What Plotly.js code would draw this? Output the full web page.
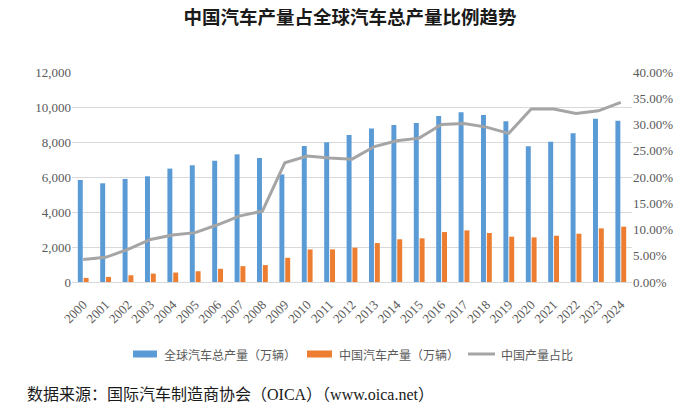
<!DOCTYPE html>
<html>
<head>
<meta charset="utf-8">
<script src="https://cdn.plot.ly/plotly-3.0.1.min.js"></script>
<style>html,body{margin:0;padding:0;background:#fff;}#chart{width:700px;height:407px;}</style>
</head>
<body>
<div id="chart"></div>
<script>
var years = ['2000','2001','2002','2003','2004','2005','2006','2007','2008','2009','2010','2011','2012','2013','2014','2015','2016','2017','2018','2019','2020','2021','2022','2023','2024'];
var globalProd = [5830,5640,5890,6040,6480,6670,6930,7295,7085,6150,7770,7985,8400,8765,8970,9085,9490,9700,9545,9180,7755,8020,8495,9335,9220];
var chinaProd = [235,290,385,480,540,615,755,905,965,1385,1860,1865,1960,2225,2440,2495,2855,2950,2800,2590,2550,2645,2760,3065,3160];
var chinaShare = [0.043,0.047,0.062,0.081,0.0895,0.094,0.109,0.126,0.135,0.227,0.240,0.236,0.234,0.258,0.269,0.274,0.300,0.302,0.295,0.283,0.3295,0.3295,0.321,0.326,0.342];

var seriesNames = ['全球汽车总产量（万辆）','中国汽车产量（万辆）','中国产量占比'];
var seriesColors = ['#5B9BD5','#ED7D31','#A5A5A5'];
var titleText = '中国汽车产量占全球汽车总产量比例趋势';
var sourceText = '数据来源：国际汽车制造商协会（OICA）（www.oica.net）';

var tickFont = {family:'"Liberation Serif", "Times New Roman", serif', size:13, color:'#595959'};

var data = [
  {type:'bar', name:seriesNames[0], x:years, y:globalProd, marker:{color:seriesColors[0]}, yaxis:'y'},
  {type:'bar', name:seriesNames[1], x:years, y:chinaProd, marker:{color:seriesColors[1]}, yaxis:'y'},
  {type:'scatter', mode:'lines', name:seriesNames[2], x:years, y:chinaShare, line:{color:seriesColors[2], width:3}, yaxis:'y2'}
];

// custom legend (paper coords; plot area is 72..632 x, 72..282 y)
var PX = function(px){ return (px-72)/560; };
var PY = function(py){ return (282-py)/210; };
var legFont = {family:'"Noto Sans CJK SC", sans-serif', size:12, color:'#595959'};
var shapes = [
  {type:'rect', xref:'paper', yref:'paper', x0:PX(133), x1:PX(157), y0:PY(357.5), y1:PY(350.5), fillcolor:seriesColors[0], line:{width:0}},
  {type:'rect', xref:'paper', yref:'paper', x0:PX(307), x1:PX(332), y0:PY(357.5), y1:PY(350.5), fillcolor:seriesColors[1], line:{width:0}},
  {type:'line', xref:'paper', yref:'paper', x0:PX(468), x1:PX(495), y0:PY(354), y1:PY(354), line:{color:seriesColors[2], width:3}}
];
var annotations = [
  {text:seriesNames[0], xref:'paper', yref:'paper', x:PX(162), y:PY(354), xanchor:'left', yanchor:'middle', showarrow:false, font:legFont},
  {text:seriesNames[1], xref:'paper', yref:'paper', x:PX(337), y:PY(354), xanchor:'left', yanchor:'middle', showarrow:false, font:legFont},
  {text:seriesNames[2], xref:'paper', yref:'paper', x:PX(499), y:PY(354), xanchor:'left', yanchor:'middle', showarrow:false, font:legFont},
  {text:sourceText, xref:'paper', yref:'paper', x:PX(25), y:PY(394), xanchor:'left', yanchor:'middle', showarrow:false, font:{family:'"Liberation Serif", "Noto Sans CJK SC", serif', size:16, color:'#1a1a1a'}}
];

var layout = {
  width:700, height:407,
  margin:{l:72, r:68, t:72, b:125},
  paper_bgcolor:'#fff', plot_bgcolor:'#fff',
  font:{family:'"Noto Sans CJK SC", sans-serif', color:'#595959'},
  title:{text:'<b>'+titleText+'</b>', font:{family:'"Noto Sans CJK SC", sans-serif', size:18.5, color:'#1a1a1a'}, x:0.5, xref:'container', y:0.957, yref:'container', yanchor:'middle'},
  barmode:'group', bargap:0.48, bargroupgap:0.15,
  xaxis:{type:'category', tickangle:-45, dtick:1, tickfont:tickFont, showline:true, linecolor:'#d9d9d9', linewidth:1, showgrid:false, ticks:'', ticklabelstandoff:9},
  yaxis:{range:[0,12000], dtick:2000, tickformat:',', tickfont:tickFont, gridcolor:'#d9d9d9', gridwidth:1, zeroline:false, showline:false, ticks:''},
  yaxis2:{range:[0,0.4], dtick:0.05, tickformat:'.2%', overlaying:'y', side:'right', tickfont:tickFont, showgrid:false, zeroline:false, showline:false, ticks:''},
  showlegend:false,
  shapes:shapes,
  annotations:annotations
};

Plotly.newPlot('chart', data, layout, {displayModeBar:false, staticPlot:true});
</script>
</body>
</html>
